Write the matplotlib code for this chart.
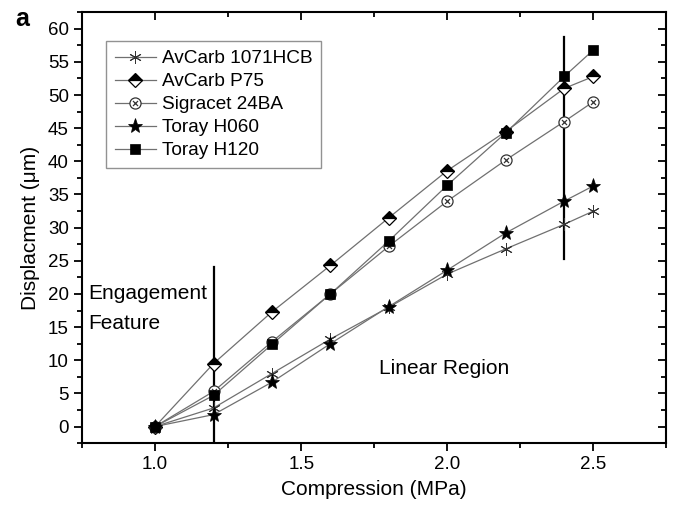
import numpy as np
import matplotlib.pyplot as plt
from matplotlib.path import Path
from matplotlib.ticker import MultipleLocator

plt.rcParams['font.family'] = ['Liberation Sans', 'DejaVu Sans']

# compression steps (MPa)
pressure = [1.0, 1.2, 1.4, 1.6, 1.8, 2.0, 2.2, 2.4, 2.5]

# displacement (um) per material
avcarb_1071 = [0, 2.8, 8.0, 13.2, 18.0, 23.0, 26.8, 30.5, 32.5]
avcarb_p75 = [0, 9.5, 17.3, 24.3, 31.5, 38.6, 44.5, 51.0, 52.8]
sigracet_24ba = [0, 5.3, 12.8, 20.0, 27.2, 34.0, 40.2, 46.0, 49.0]
toray_h060 = [0, 1.8, 6.7, 12.5, 18.1, 23.6, 29.2, 34.0, 36.3]
toray_h120 = [0, 4.7, 12.4, 20.0, 28.0, 36.4, 44.3, 52.8, 56.8]

labels = ['AvCarb 1071HCB', 'AvCarb P75', 'Sigracet 24BA', 'Toray H060', 'Toray H120']

# region markers: x position, y start, y end
region_x = [1.2, 2.4]
region_y0 = [-2.5, 25.2]
region_y1 = [24.0, 58.7]

# circle with an x inside
d = 0.45
crossed_circle = Path.make_compound_path(
    Path.unit_circle(),
    Path([(-d, -d), (d, d)]),
    Path([(-d, d), (d, -d)]))

fig = plt.figure(figsize=(6.78, 5.07), dpi=100)
ax = fig.add_axes([0.121, 0.126, 0.862, 0.85])

line_kw = dict(color='#707070', lw=0.9, markeredgecolor='black', markerfacecolor='black')

ax.plot(pressure, avcarb_1071, marker=(6, 2, 0), ms=9, mew=0.7, label=labels[0],
        color='#707070', lw=0.9, markeredgecolor='#333333')
ax.plot(pressure, avcarb_p75, marker='D', ms=7.5, fillstyle='top', mew=0.9,
        markerfacecoloralt='white', label=labels[1], **line_kw)
ax.plot(pressure, sigracet_24ba, marker=crossed_circle, ms=8, mew=0.9,
        label=labels[2], color='#707070', lw=0.9, markeredgecolor='#333333',
        markerfacecolor='white')
ax.plot(pressure, toray_h060, marker='*', ms=11, mew=0.5, label=labels[3], **line_kw)
ax.plot(pressure, toray_h120, marker='s', ms=7, mew=0.5, label=labels[4], **line_kw)

for x, y0, y1 in zip(region_x, region_y0, region_y1):
    ax.plot([x, x], [y0, y1], color='black', lw=1.6, zorder=1)

ax.text(0.77, 20, 'Engagement', fontsize=15, va='center')
ax.text(0.77, 15.5, 'Feature', fontsize=15, va='center')
ax.text(1.99, 8.7, 'Linear Region', fontsize=15, ha='center', va='center')

fig.text(0.022, 0.962, 'a', fontsize=18, fontweight='bold', va='center')

ax.set_xlim(0.75, 2.75)
ax.set_ylim(-2.5, 62.5)
ax.xaxis.set_major_locator(MultipleLocator(0.5))
ax.xaxis.set_minor_locator(MultipleLocator(0.25))
ax.yaxis.set_major_locator(MultipleLocator(5))
ax.yaxis.set_minor_locator(MultipleLocator(2.5))
ax.set_xticks([1.0, 1.5, 2.0, 2.5])
ax.set_xticklabels(['1.0', '1.5', '2.0', '2.5'])

ax.tick_params(axis='both', which='both', direction='out', labelsize=13.5, width=1.3)
ax.tick_params(which='major', length=6)
ax.tick_params(which='minor', length=3.5)
ax.tick_params(top=True, right=True, which='both')
for t in ax.xaxis.get_ticklines(minor=False)[1::2] + ax.xaxis.get_ticklines(minor=True)[1::2]:
    t.set_marker(3)
for t in ax.yaxis.get_ticklines(minor=False)[1::2] + ax.yaxis.get_ticklines(minor=True)[1::2]:
    t.set_marker(0)
for s in ax.spines.values():
    s.set_linewidth(1.5)

ax.set_xlabel('Compression (MPa)', fontsize=15, labelpad=5)
ax.set_ylabel('Displacment (\u03bcm)', fontsize=15, labelpad=6)

leg = ax.legend(loc='upper left', bbox_to_anchor=(0.041, 0.932), fontsize=13.7,
                frameon=True, fancybox=False, edgecolor='#777777', handlelength=2.2,
                labelspacing=0.3, borderpad=0.45, handletextpad=0.3, borderaxespad=0)
leg.get_frame().set_linewidth(1.0)

fig.savefig('out.png', dpi=100)
